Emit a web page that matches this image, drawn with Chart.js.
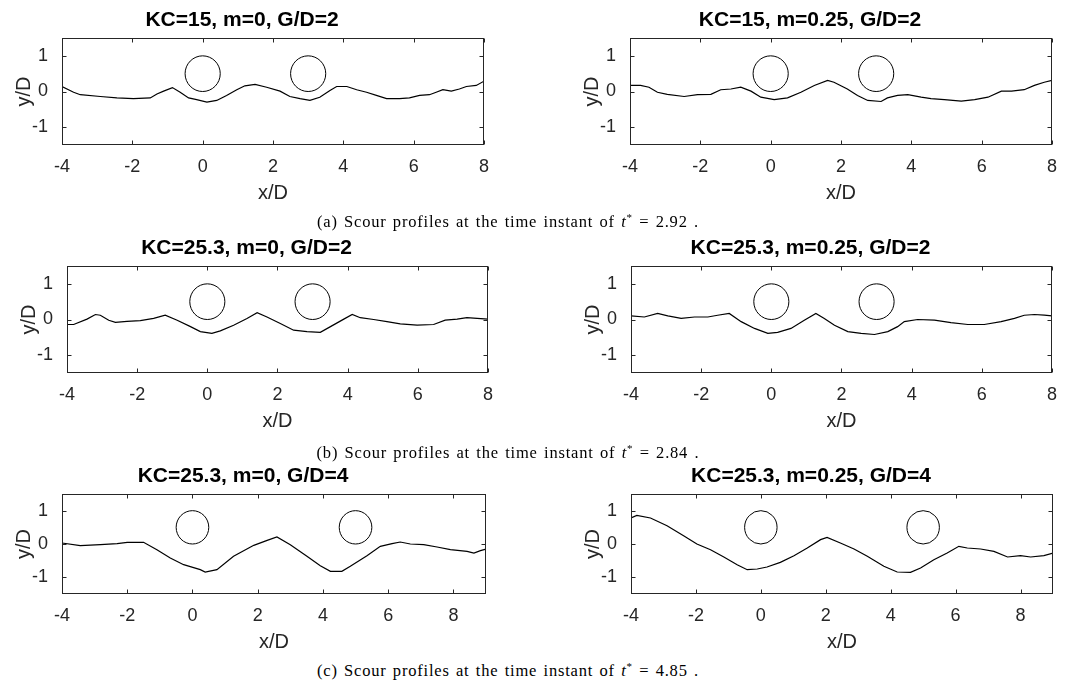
<!DOCTYPE html>
<html>
<head>
<meta charset="utf-8">
<title>Scour profiles</title>
<script src="https://cdn.jsdelivr.net/npm/chart.js@4.4.1/dist/chart.umd.min.js"></script>
<style>
    body { margin: 0; background: #fff; }
    #page { position: relative; width: 1069px; height: 683px; overflow: hidden; }
    #page canvas { position: absolute; }
    .caption {
        position: absolute;
        width: 600px;
        text-align: center;
        font-family: "Liberation Serif", "Times New Roman", serif;
        font-size: 16.5px;
        letter-spacing: 0.8px;
        word-spacing: 1.4px;
        color: #000;
        white-space: nowrap;
    }
    .caption sup { font-size: 11px; vertical-align: 6px; line-height: 0; }
</style>
</head>
<body>
<div id="page">
    <canvas id="c1"></canvas>
    <canvas id="c2"></canvas>
    <canvas id="c3"></canvas>
    <canvas id="c4"></canvas>
    <canvas id="c5"></canvas>
    <canvas id="c6"></canvas>
    <div class="caption" style="left:208px; top:212px;">(a) Scour profiles at the time instant of <i>t</i><sup>*</sup> = 2.92 .</div>
    <div class="caption" style="left:208px; top:443px;">(b) Scour profiles at the time instant of <i>t</i><sup>*</sup> = 2.84 .</div>
    <div class="caption" style="left:208px; top:661px;">(c) Scour profiles at the time instant of <i>t</i><sup>*</sup> = 4.85 .</div>
</div>
<script>
// bed profiles y/D along x/D
const a1X = [-4, -3.67, -3.48, -2.91, -2.44, -1.97, -1.49, -1.3, -1.11, -0.86, -0.64, -0.4, -0.17, 0.12, 0.4, 0.68, 0.97, 1.2, 1.49, 1.82, 2.2, 2.48, 2.77, 3.05, 3.33, 3.62, 3.81, 4.1, 4.38, 4.66, 4.94, 5.23, 5.6, 5.88, 6.17, 6.45, 6.64, 6.83, 7.07, 7.3, 7.5, 7.78, 8];
const a1Y = [0.14, -0.02, -0.09, -0.14, -0.18, -0.2, -0.18, -0.07, 0.01, 0.11, -0.02, -0.18, -0.23, -0.3, -0.25, -0.11, 0.05, 0.16, 0.2, 0.12, 0.01, -0.14, -0.2, -0.25, -0.16, 0.03, 0.14, 0.14, 0.05, -0.02, -0.11, -0.2, -0.2, -0.18, -0.11, -0.09, -0.02, 0.05, 0.01, 0.07, 0.14, 0.17, 0.29];

const a2X = [-4, -3.7, -3.46, -3.22, -2.94, -2.46, -2.08, -1.7, -1.42, -1.13, -0.85, -0.56, -0.28, 0.1, 0.48, 0.86, 1.24, 1.62, 1.8, 2.18, 2.47, 2.76, 3.14, 3.32, 3.61, 3.9, 4.28, 4.56, 4.94, 5.42, 5.8, 6.18, 6.56, 6.85, 7.21, 7.5, 7.78, 8];
const a2Y = [0.17, 0.17, 0.12, -0.02, -0.08, -0.14, -0.09, -0.08, 0.05, 0.07, 0.12, 0.01, -0.16, -0.23, -0.18, -0.02, 0.17, 0.31, 0.26, 0.07, -0.11, -0.25, -0.28, -0.18, -0.11, -0.09, -0.16, -0.2, -0.23, -0.27, -0.23, -0.16, 0.01, 0.01, 0.05, 0.17, 0.26, 0.31];

const b1X = [-4, -3.81, -3.43, -3.19, -3.05, -2.81, -2.62, -2.29, -1.91, -1.53, -1.2, -0.86, -0.48, -0.2, 0.13, 0.37, 0.75, 1.13, 1.42, 1.7, 2.08, 2.46, 2.84, 3.22, 3.51, 3.89, 4.13, 4.36, 4.74, 5.12, 5.5, 5.98, 6.45, 6.78, 7.12, 7.4, 7.69, 8];
const b1Y = [-0.14, -0.14, 0.01, 0.14, 0.12, -0.02, -0.08, -0.05, -0.03, 0.03, 0.12, -0.02, -0.2, -0.34, -0.39, -0.32, -0.16, 0.03, 0.19, 0.07, -0.11, -0.3, -0.34, -0.36, -0.2, 0.01, 0.14, 0.05, 0, -0.06, -0.12, -0.16, -0.14, -0.02, 0.01, 0.05, 0.03, 0.01];

const b2X = [-4, -3.62, -3.24, -2.95, -2.57, -2.19, -1.81, -1.53, -1.2, -0.86, -0.48, -0.1, 0.18, 0.56, 0.94, 1.27, 1.51, 1.8, 2.18, 2.56, 2.94, 3.32, 3.6, 3.79, 4.17, 4.65, 5.12, 5.6, 6.07, 6.55, 6.93, 7.21, 7.5, 7.78, 8];
const b2Y = [0.1, 0.07, 0.17, 0.1, 0.03, 0.07, 0.07, 0.12, 0.17, -0.06, -0.25, -0.39, -0.36, -0.25, -0.02, 0.17, 0.03, -0.16, -0.34, -0.39, -0.42, -0.34, -0.2, -0.06, 0, -0.02, -0.09, -0.14, -0.14, -0.06, 0.03, 0.12, 0.14, 0.12, 0.1];

const c1X = [-4, -3.44, -2.82, -2.31, -2, -1.5, -1.09, -0.68, -0.27, 0.24, 0.39, 0.75, 1.26, 1.88, 2.29, 2.59, 3, 3.51, 3.92, 4.23, 4.58, 4.84, 5.35, 5.76, 6.12, 6.37, 6.68, 7.09, 7.5, 7.91, 8.42, 8.63, 8.83, 9];
const c1Y = [0.03, -0.05, -0.02, 0.01, 0.05, 0.05, -0.17, -0.42, -0.62, -0.77, -0.84, -0.77, -0.37, -0.04, 0.11, 0.21, -0.02, -0.37, -0.65, -0.82, -0.82, -0.67, -0.35, -0.07, 0.01, 0.06, 0, -0.02, -0.09, -0.17, -0.22, -0.27, -0.2, -0.15];

const c2X = [-4, -3.82, -3.4, -2.89, -2.38, -1.97, -1.55, -1.14, -0.73, -0.42, -0.11, 0.19, 0.6, 1.02, 1.43, 1.84, 2.04, 2.45, 2.87, 3.28, 3.79, 4.2, 4.61, 4.92, 5.33, 5.74, 6.1, 6.36, 6.77, 7.18, 7.6, 8, 8.31, 8.72, 9];
const c2Y = [0.78, 0.86, 0.78, 0.55, 0.25, 0, -0.17, -0.39, -0.62, -0.77, -0.75, -0.69, -0.55, -0.35, -0.12, 0.13, 0.2, 0.03, -0.15, -0.37, -0.67, -0.84, -0.85, -0.72, -0.47, -0.27, -0.07, -0.12, -0.15, -0.22, -0.39, -0.35, -0.39, -0.35, -0.27];

const titles = ['KC=15, m=0, G/D=2', 'KC=15, m=0.25, G/D=2', 'KC=25.3, m=0, G/D=2',
    'KC=25.3, m=0.25, G/D=2', 'KC=25.3, m=0, G/D=4', 'KC=25.3, m=0.25, G/D=4'];

// cylinder centres (x/D), all of diameter D sitting at y/D = 0.5
const cylGap2 = [0, 3];
const cylGap4 = [0, 5];
const cylY = 0.5;
const cylD = 1;

const xTicksShort = [-4, -2, 0, 2, 4, 6, 8];
const xTicksLong = [-4, -2, 0, 2, 4, 6, 8];
const yTicks = [-1, 0, 1];

const axisColor = '#262626';
const sansFont = '"Liberation Sans", Arial, Helvetica, sans-serif';

// MATLAB-like frame: full box, ticks pointing inwards, and the two cylinders
const frameAndCylinders = {
    id: 'frameAndCylinders',
    afterDatasetsDraw(chart, args, opts) {
        const {ctx, chartArea: a, scales: {x, y}} = chart;
        const L = Math.round(a.left) + 0.5, R = Math.round(a.right) - 0.5;
        const T = Math.round(a.top) + 0.5, B = Math.round(a.bottom) - 0.5;
        ctx.save();
        ctx.strokeStyle = axisColor;
        ctx.lineWidth = 1;
        ctx.strokeRect(L, T, R - L, B - T);
        ctx.beginPath();
        x.ticks.forEach(t => {
            const px = Math.round(x.getPixelForValue(t.value)) + 0.5;
            ctx.moveTo(px, B); ctx.lineTo(px, B - 4);
            ctx.moveTo(px, T); ctx.lineTo(px, T + 4);
        });
        y.ticks.forEach(t => {
            const py = Math.round(y.getPixelForValue(t.value)) + 0.5;
            ctx.moveTo(L, py); ctx.lineTo(L + 4, py);
            ctx.moveTo(R, py); ctx.lineTo(R - 4, py);
        });
        ctx.stroke();

        ctx.strokeStyle = '#000';
        (opts.centers || []).forEach(c => {
            const cx = x.getPixelForValue(c);
            const cy = y.getPixelForValue(cylY);
            const rx = Math.abs(x.getPixelForValue(c + cylD / 2) - cx);
            const ry = Math.abs(y.getPixelForValue(cylY + cylD / 2) - cy);
            ctx.beginPath();
            ctx.ellipse(cx, cy, rx, ry, 0, 0, Math.PI * 2);
            ctx.stroke();
        });
        ctx.restore();
    }
};

function toPoints(xs, ys) {
    return xs.map((v, i) => ({x: v, y: ys[i]}));
}

// box = chart area in page pixels
function drawProfile(id, box, title, xs, ys, xMax, xTicks, centers) {
    const padL = 62, padT = 38, padR = 16, padB = 60;
    const canvas = document.getElementById(id);
    canvas.width = box.right - box.left + padL + padR;
    canvas.height = box.bottom - box.top + padT + padB;
    canvas.style.left = (box.left - padL) + 'px';
    canvas.style.top = (box.top - padT) + 'px';

    const tickFont = {family: sansFont, size: 18};
    const labelFont = {family: sansFont, size: 20};

    new Chart(canvas, {
        type: 'scatter',
        data: {
            datasets: [{
                data: toPoints(xs, ys),
                showLine: true,
                borderColor: '#000',
                borderWidth: 1.2,
                pointRadius: 0,
                tension: 0
            }]
        },
        options: {
            responsive: false,
            animation: false,
            events: [],
            layout: {padding: {left: 0, right: padR, top: 0, bottom: 0}},
            plugins: {
                legend: {display: false},
                tooltip: {enabled: false},
                title: {
                    display: true,
                    text: title,
                    color: '#000',
                    font: {family: sansFont, size: 21, weight: 'bold'},
                    padding: {top: 7.5, bottom: 5.3}
                },
                frameAndCylinders: {centers: centers}
            },
            scales: {
                x: {
                    type: 'linear',
                    min: -4,
                    max: xMax,
                    afterBuildTicks: s => { s.ticks = xTicks.map(v => ({value: v})); },
                    afterFit: s => { s.height = padB; },
                    grid: {display: false, drawTicks: false},
                    border: {display: false},
                    ticks: {font: tickFont, color: axisColor, padding: 11, maxRotation: 0},
                    title: {display: true, text: 'x/D', font: labelFont, color: axisColor, padding: {top: 0, bottom: 0}}
                },
                y: {
                    type: 'linear',
                    min: -1.5,
                    max: 1.5,
                    afterBuildTicks: s => { s.ticks = yTicks.map(v => ({value: v})); },
                    afterFit: s => { s.width = padL; },
                    grid: {display: false, drawTicks: false},
                    border: {display: false},
                    ticks: {font: tickFont, color: axisColor, padding: 14},
                    title: {display: true, text: 'y/D', font: labelFont, color: axisColor, padding: {top: 12, bottom: 0}}
                }
            }
        },
        plugins: [frameAndCylinders]
    });
}

drawProfile('c1', {left: 62, top: 38, right: 484, bottom: 145}, titles[0], a1X, a1Y, 8, xTicksShort, cylGap2);
drawProfile('c2', {left: 630, top: 38, right: 1052, bottom: 145}, titles[1], a2X, a2Y, 8, xTicksShort, cylGap2);
drawProfile('c3', {left: 67, top: 266, right: 488, bottom: 373}, titles[2], b1X, b1Y, 8, xTicksShort, cylGap2);
drawProfile('c4', {left: 631, top: 266, right: 1052, bottom: 373}, titles[3], b2X, b2Y, 8, xTicksShort, cylGap2);
drawProfile('c5', {left: 62, top: 494, right: 486, bottom: 594}, titles[4], c1X, c1Y, 9, xTicksLong, cylGap4);
drawProfile('c6', {left: 631, top: 494, right: 1053, bottom: 594}, titles[5], c2X, c2Y, 9, xTicksLong, cylGap4);
</script>
</body>
</html>
